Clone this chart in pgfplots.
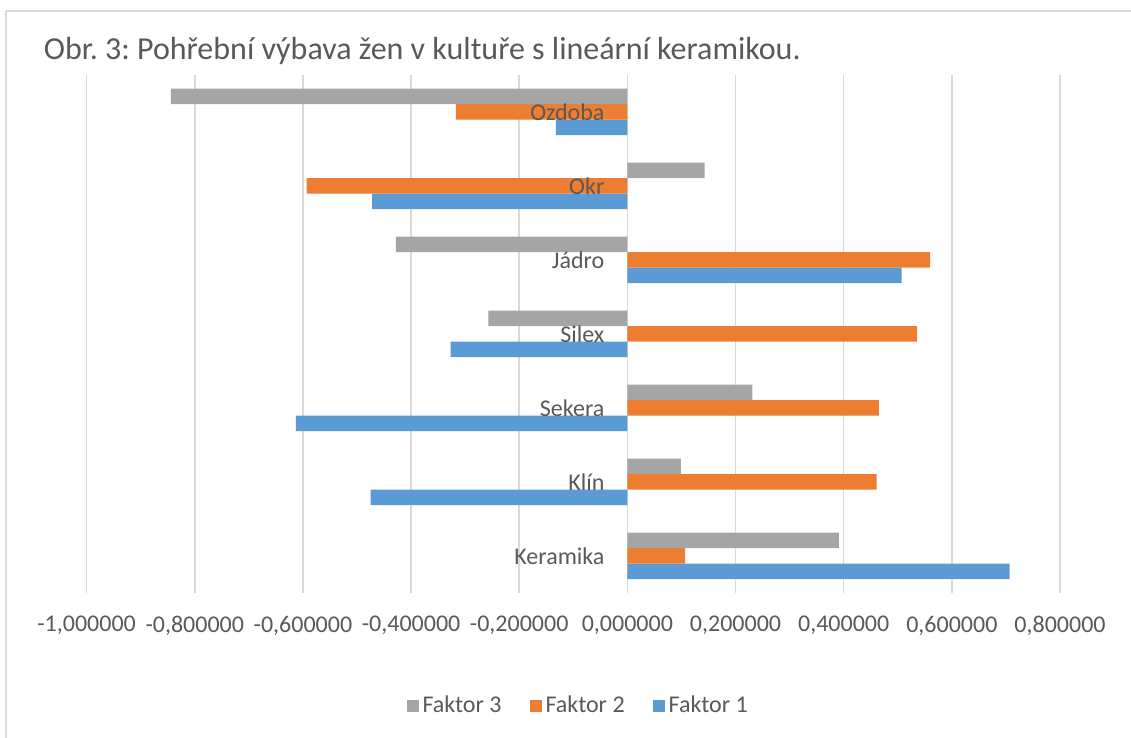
\documentclass[border=0pt]{standalone}
\usepackage{fontspec}
\setmainfont{Carlito}
\usepackage{pgfplots}
\pgfplotsset{compat=1.18}
\frenchspacing

\definecolor{fone}{HTML}{5B9BD5}
\definecolor{ftwo}{HTML}{ED7D31}
\definecolor{fthree}{HTML}{A5A5A5}
\definecolor{txt}{HTML}{595959}
\definecolor{gridc}{HTML}{D9D9D9}

\tikzset{cat/.style={anchor=east, inner sep=0pt, xshift=-11.3pt, text=txt,
    font=\fontsize{12pt}{14pt}\selectfont}}

% 1 px of the reference = 0.5pt
\begin{document}
\begin{tikzpicture}
\begin{axis}[
    at={(43.3pt,72.5pt)}, anchor=south west,
    scale only axis,
    width=486.7pt, height=259pt,
    xbar=0pt,
    bar width=7.75pt,
    xmin=-1, xmax=0.8,
    ymin=-0.5, ymax=6.5,
    xtick={-1,-0.8,...,0.8},
    ytick=\empty,
    axis x line*=bottom,
    axis y line*=middle,
    axis line style={draw=none},
    hide obscured x ticks=false,
    major tick length=0pt,
    xmajorgrids,
    grid style={gridc, line width=0.75pt},
    tick label style={font=\fontsize{12pt}{14pt}\selectfont, text=txt},
    xticklabel style={yshift=-8pt},
    /pgf/number format/.cd, fixed, fixed zerofill, precision=6, use comma, 1000 sep={}, assume math mode=true,
    /pgfplots/.cd,
    legend columns=3,
    reverse legend,
    legend style={at={(0.506,-0.218)}, anchor=center, draw=none, fill=none,
        font=\fontsize{12pt}{14pt}\selectfont, text=txt,
        /tikz/every even column/.append style={column sep=12pt}},
    legend image code/.code={\fill[#1] (0pt,-3pt) rectangle (6pt,3pt);},
]
\addplot[fill=fone, draw=none] coordinates {
(0.707,0) (-0.475,1) (-0.613,2) (-0.327,3) (0.507,4) (-0.472,5) (-0.132,6)
};
\addplot[fill=ftwo, draw=none] coordinates {
(0.107,0) (0.461,1) (0.465,2) (0.536,3) (0.560,4) (-0.593,5) (-0.317,6)
};
\addplot[fill=fthree, draw=none] coordinates {
(0.391,0) (0.099,1) (0.231,2) (-0.257,3) (-0.428,4) (0.143,5) (-0.844,6)
};
\legend{Faktor 1, Faktor 2, Faktor 3}
% category names sit on the zero line, over the bars
\node[cat] at (axis cs:0,0) {Keramika};
\node[cat] at (axis cs:0,1) {Klín};
\node[cat] at (axis cs:0,2) {Sekera};
\node[cat] at (axis cs:0,3) {Silex};
\node[cat] at (axis cs:0,4) {Jádro};
\node[cat] at (axis cs:0,5) {Okr};
\node[cat] at (axis cs:0,6) {Ozdoba};
\end{axis}
\pgfresetboundingbox
\useasboundingbox (0pt,0pt) rectangle (565.5pt,369pt);
\draw[gridc, line width=1pt] (2.85pt,-10pt) -- (2.85pt,363.25pt) -- (580pt,363.25pt);
\node[anchor=base west, inner sep=0pt, text=txt, font=\fontsize{16pt}{19pt}\selectfont]
  at (21.75pt,339pt) {Obr. 3: Pohřební výbava žen v kultuře s lineární keramikou.};
\end{tikzpicture}
\end{document}
